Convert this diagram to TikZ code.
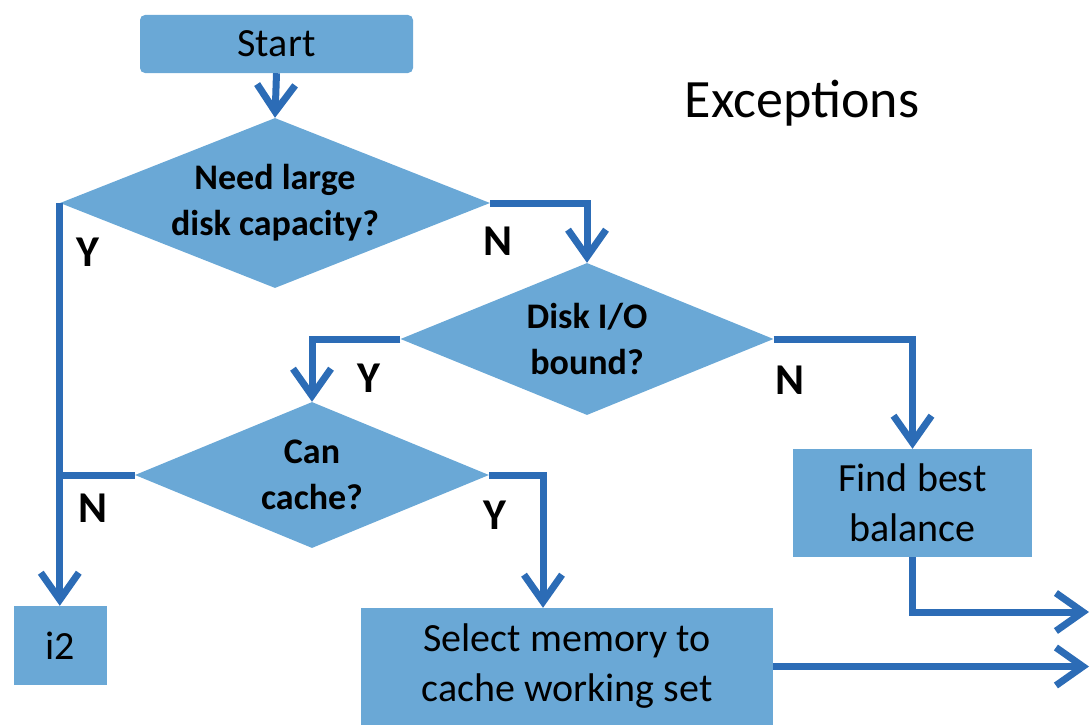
\documentclass[tikz,border=0pt]{standalone}
\usepackage{fontspec}
\setmainfont{Carlito}
\usetikzlibrary{arrows.meta,shapes.geometric}
\definecolor{boxfill}{RGB}{106,168,214}
\definecolor{flowline}{RGB}{44,108,182}
\begin{document}
\begin{tikzpicture}[x=1pt,y=-1pt,
  procbox/.style={fill=boxfill, inner sep=0pt, align=center,
    font=\fontsize{40}{50}\selectfont},
  decision/.style={diamond, fill=boxfill, inner sep=-12pt, align=center,
    font=\fontsize{36}{46}\selectfont\bfseries},
  flow/.style={draw=flowline, line width=7pt},
  arrow/.style={flow, -{Straight Barb[length=27pt,width=38pt]}},
  yn/.style={font=\fontsize{44}{44}\selectfont\bfseries, inner sep=0pt}
]
\useasboundingbox (0,0) rectangle (1091,725);

% process boxes and decisions
\node[procbox, rounded corners=5pt, minimum width=273pt, minimum height=58pt] (start) at (276.5,44) {Start};
\node[decision, minimum width=430pt, minimum height=170pt, aspect=2.53] (d1) at (275,203) {Need large\\disk capacity?};
\node[decision, minimum width=373pt, minimum height=152pt, aspect=2.45] (d2) at (587,339) {Disk I/O\\bound?};
\node[decision, minimum width=354pt, minimum height=146pt, aspect=2.42] (d3) at (312,475) {Can\\cache?};
\node[procbox, minimum width=93pt, minimum height=79pt] (i2) at (60.5,645.5) {i2};
\node[procbox, minimum width=412pt, minimum height=117pt] (sel) at (567,666.5) {Select memory to\\cache working set};
\node[procbox, minimum width=239pt, minimum height=108pt] (find) at (912.5,503) {Find best\\balance};
\node[font=\fontsize{54}{54}\selectfont] (exc) at (802,103) {Exceptions};

% free ends and entry points
\coordinate (selin) at ([xshift=-24pt]sel.north);
\coordinate (out1) at (1089,612);
\coordinate (out2) at (1089,668);

% connectors
\draw[arrow] (start.south) -- (d1.north);
\draw[arrow] (d1.west) -- (d1.west |- i2.north);
\draw[arrow] (d1.east) -| (d2.north);
\draw[arrow] (d2.west) -| (d3.north);
\draw[arrow] (d2.east) -| (find.north);
\draw[flow] (d3.west) -- (d3.west -| d1.west);
\draw[arrow] (d3.east) -| (selin);
\draw[arrow] (find.south) |- (out1);
\draw[arrow] (sel.east) -- (sel.east -| out2);

% branch labels
\node[yn] (y1) at (88,252) {Y};
\node[yn] (n1) at (498,241) {N};
\node[yn] (y2) at (369,378) {Y};
\node[yn] (n2) at (790,380) {N};
\node[yn] (n3) at (93,508) {N};
\node[yn] (y3) at (495,515) {Y};
\end{tikzpicture}
\end{document}
